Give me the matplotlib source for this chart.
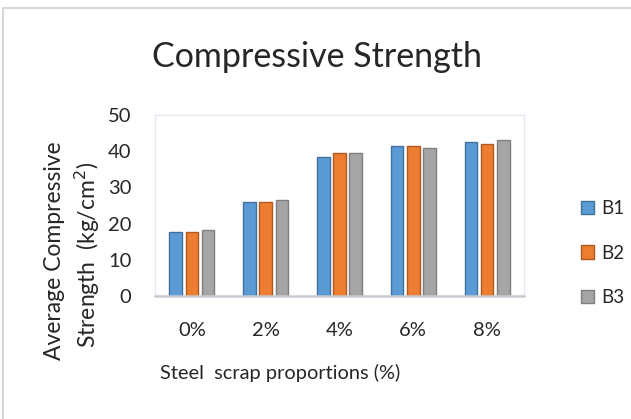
# Compressive strength of concrete with steel scrap, grouped bars per batch
import matplotlib.pyplot as plt
import numpy as np
from matplotlib.patches import Rectangle

plt.rcParams['font.family'] = ['Lato', 'DejaVu Sans']

proportions = ['0%', '2%', '4%', '6%', '8%']
b1 = [17.6, 25.9, 38.4, 41.5, 42.6]
b2 = [17.6, 25.9, 39.6, 41.5, 42.1]
b3 = [18.2, 26.6, 39.6, 40.8, 43.2]
series_names = ['B1', 'B2', 'B3']

colors = ['#5B9BD5', '#ED7D31', '#A5A5A5']
edges = ['#41719C', '#AE5A21', '#7F7F7F']
text_color = '#262626'

fig = plt.figure(figsize=(6.31, 4.19), dpi=100)
ax = fig.add_axes([0.2456, 0.2936, 0.5848, 0.4320])

x = np.arange(len(proportions))
pitch = 0.22
width = 0.17
for i, (vals, name) in enumerate(zip([b1, b2, b3], series_names)):
    ax.bar(x + (i - 1) * pitch, vals, width, color=colors[i],
           edgecolor=edges[i], linewidth=1.0, label=name)

ax.set_xlim(-0.5, 4.5)
ax.set_ylim(0, 50)
ax.set_yticks(range(0, 51, 10))
ax.set_xticks(x)
ax.set_xticklabels(proportions)
ax.tick_params(length=0, labelsize=14.5, colors=text_color)
ax.tick_params(axis='x', pad=19)
ax.tick_params(axis='y', pad=17)

for side in ['top', 'right', 'left']:
    ax.spines[side].set_color('#E3EAF2')
    ax.spines[side].set_linewidth(1.0)
ax.spines['bottom'].set_color('#C8CDD3')
ax.spines['bottom'].set_linewidth(1.8)

fig.text(0.503, 0.864, 'Compressive Strength', ha='center', va='center',
         fontsize=24.5, color=text_color)
fig.text(0.087, 0.401, 'Average Compressive', rotation=90, ha='center',
         va='center', fontsize=16.5, color=text_color)
fig.text(0.138, 0.391, 'Strength  (kg/cm$^2$)', rotation=90, ha='center',
         va='center', fontsize=16.5, color=text_color)
fig.text(0.444, 0.110, 'Steel  scrap proportions (%)', ha='center',
         va='center', fontsize=14.4, color=text_color)

fig.legend(loc='center left', bbox_to_anchor=(0.894, 0.396), frameon=False,
           fontsize=13.5, labelspacing=1.45, handlelength=0.7, handleheight=0.7,
           handletextpad=0.4, labelcolor=text_color)

fig.patches.append(Rectangle((0.005, -0.01), 1.0, 0.99, transform=fig.transFigure,
                             fill=False, edgecolor='#D0D0D0', linewidth=1.2))

fig.savefig('out.png', dpi=100)
